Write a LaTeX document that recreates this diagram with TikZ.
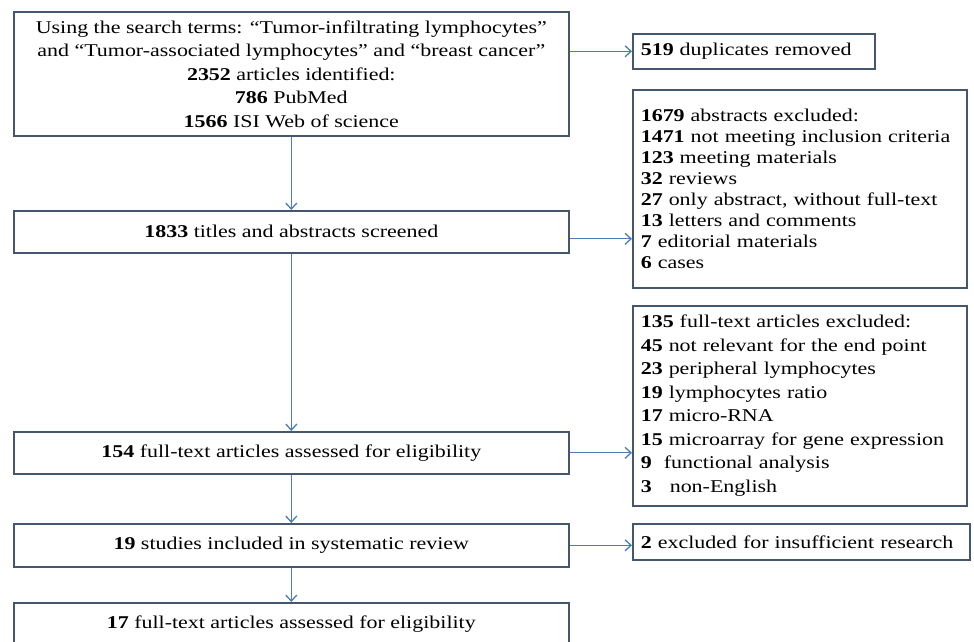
\documentclass[tikz,border=0pt]{standalone}
\usepackage{fontspec}
\setmainfont{Liberation Serif}[FakeStretch=1.22]
\usetikzlibrary{arrows.meta}
\definecolor{boxc}{HTML}{46566C}
\definecolor{arrc}{HTML}{4A7EBB}
\begin{document}
\begin{tikzpicture}[x=1pt,y=-1pt,
  box/.style={draw=boxc, line width=1.6pt, inner ysep=0pt, inner xsep=8pt, anchor=north west, font=\fontsize{18}{21}\selectfont},
  arr/.style={draw=arrc, line width=1.3pt, -{Straight Barb[length=6pt,width=11pt]}}]
\useasboundingbox (0,0) rectangle (974,642);
\clip (0,0) rectangle (974,642);
\fill[white] (0,0) rectangle (974,642);
% main column
\node[box, minimum width=555pt, minimum height=124pt, align=center, font=\fontsize{18}{23.5}\selectfont] (b1) at (13,11)
  {Using the search terms: “Tumor-infiltrating lymphocytes”\\
   and “Tumor-associated lymphocytes” and “breast cancer”\\
   \textbf{2352} articles identified:\\
   \textbf{786} PubMed\hspace*{85pt}\\
   \textbf{1566} ISI Web of science};
\node[box, minimum width=555pt, minimum height=42pt] (b2) at (13,210) {\textbf{1833} titles and abstracts screened};
\node[box, minimum width=555pt, minimum height=42pt] (b3) at (13,431) {\textbf{154} full-text articles assessed for eligibility};
\node[box, minimum width=555pt, minimum height=43pt] (b4) at (13,523) {\textbf{19} studies included in systematic review};
\node[box, minimum width=555pt, minimum height=42pt] (b5) at (13,602) {\textbf{17} full-text articles assessed for eligibility};
% side column
\node[box, minimum width=242pt, minimum height=35pt, text width=226pt, align=left] (ex1) at (632,33) {\textbf{519} duplicates removed};
\node[box, minimum width=334pt, minimum height=198pt, text width=318pt, align=left] (ex2) at (632,89)
  {\textbf{1679} abstracts excluded:\\
   \textbf{1471} not meeting inclusion criteria\\
   \textbf{123} meeting materials\\
   \textbf{32} reviews\\
   \textbf{27} only abstract, without full-text\\
   \textbf{13} letters and comments\\
   \textbf{7} editorial materials\\
   \textbf{6} cases};
\node[box, minimum width=334pt, minimum height=200pt, text width=318pt, align=left, font=\fontsize{18}{23.5}\selectfont] (ex3) at (632,305)
  {\textbf{135} full-text articles excluded:\\
   \textbf{45} not relevant for the end point\\
   \textbf{23} peripheral lymphocytes\\
   \textbf{19} lymphocytes ratio\\
   \textbf{17} micro-RNA\\
   \textbf{15} microarray for gene expression\\
   \textbf{9}\ \ functional analysis\\
   \textbf{3}\ \ \ non-English};
\node[box, minimum width=337pt, minimum height=36pt, text width=321pt, align=left] (ex4) at (632,523) {\textbf{2} excluded for insufficient research};
% connectors
\draw[arr] (b1.east |- ex1.west) -- (ex1.west);
\draw[arr] (b1.south) -- (b2.north);
\draw[arr] ([yshift=-7pt]b2.east) -- ([yshift=-7pt]b2.east -| ex2.west);
\draw[arr] (b2.south) -- (b3.north);
\draw[arr] (b3.east) -- (b3.east -| ex3.west);
\draw[arr] (b3.south) -- (b4.north);
\draw[arr] (b4.east) -- (b4.east -| ex4.west);
\draw[arr] (b4.south) -- (b5.north);
\end{tikzpicture}
\end{document}
